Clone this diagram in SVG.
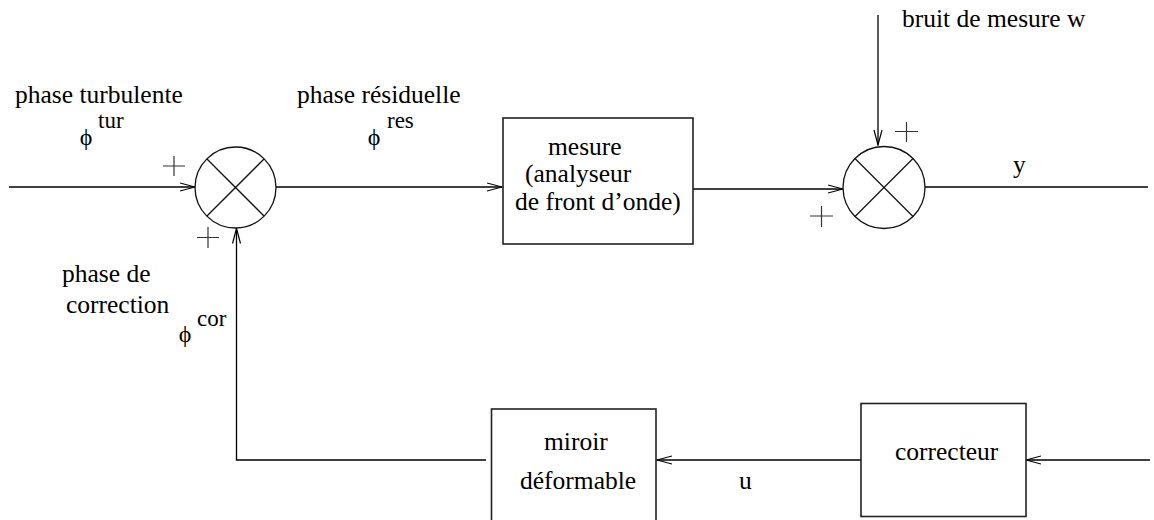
<svg xmlns="http://www.w3.org/2000/svg" width="1154" height="520" viewBox="0 0 1154 520" font-family="Liberation Serif, serif" font-size="25.5">
<style>
.sup{font-size:23px}
.phi{font-size:24px;text-anchor:middle}
.ln{fill:none;stroke:#000;stroke-width:1.3}
.box{fill:#fff;stroke:#222;stroke-width:1.6}
.sum{fill:#fff;stroke:#111;stroke-width:1.3}
.x{stroke:#111;stroke-width:1.3}
.pl{stroke:#333;stroke-width:1.2;fill:none}
</style>
<defs>
<marker id="arr" markerWidth="16" markerHeight="10" refX="15" refY="5" orient="auto" markerUnits="userSpaceOnUse">
<path d="M0,1 L15,5 L0,9" fill="none" stroke="#000" stroke-width="1.2"/>
</marker>
</defs>
<g id="connectors">
<line class="ln" x1="9" y1="187" x2="195" y2="187" marker-end="url(#arr)"/>
<line class="ln" x1="276" y1="187" x2="502" y2="187" marker-end="url(#arr)"/>
<line class="ln" x1="693" y1="189" x2="843" y2="189" marker-end="url(#arr)"/>
<line class="ln" x1="878" y1="15" x2="878" y2="145" marker-end="url(#arr)"/>
<line class="ln" x1="925" y1="187" x2="1148" y2="187"/>
<line class="ln" x1="1150" y1="460" x2="1026" y2="460" marker-end="url(#arr)"/>
<line class="ln" x1="861" y1="460" x2="657" y2="460" marker-end="url(#arr)"/>
<polyline class="ln" points="486,460 236.5,460 236.5,228.5" marker-end="url(#arr)"/>
</g>
<g id="sum1">
<circle class="sum" cx="235.5" cy="187.5" r="40.5"/>
<line class="x" x1="207" y1="159" x2="264" y2="216"/>
<line class="x" x1="264" y1="159" x2="207" y2="216"/>
<path class="pl" d="M163,166 H185 M174,156 V176"/>
<path class="pl" d="M197,237.5 H219 M208,227 V248"/>
</g>
<g id="sum2">
<circle class="sum" cx="884" cy="187.5" r="41"/>
<line class="x" x1="855" y1="158.5" x2="913" y2="216.5"/>
<line class="x" x1="913" y1="158.5" x2="855" y2="216.5"/>
<path class="pl" d="M895,131.5 H918 M906.5,122 V142"/>
<path class="pl" d="M810,216 H833 M821.5,206 V227"/>
</g>
<g id="mesure">
<rect class="box" x="503" y="118" width="190" height="126"/>
<text x="548" y="155">mesure</text>
<text x="525" y="182">(analyseur</text>
<text x="515" y="210">de front d’onde)</text>
</g>
<g id="miroir">
<rect class="box" x="491.5" y="409" width="164.5" height="114"/>
<text x="544" y="450">miroir</text>
<text x="520" y="489">déformable</text>
</g>
<g id="correcteur">
<rect class="box" x="861" y="403.5" width="165" height="113"/>
<text x="895" y="460">correcteur</text>
</g>
<g id="labels">
<text x="15" y="103">phase turbulente</text>
<text class="sup" x="98" y="128">tur</text>
<text class="phi" x="86" y="145">ϕ</text>
<text x="297" y="103">phase résiduelle</text>
<text class="sup" x="387" y="128">res</text>
<text class="phi" x="374" y="145">ϕ</text>
<text x="902" y="27">bruit de mesure w</text>
<text x="1013" y="173">y</text>
<text x="62" y="282">phase de</text>
<text x="66" y="313">correction</text>
<text class="sup" x="197" y="326">cor</text>
<text class="phi" x="185" y="342">ϕ</text>
<text x="739" y="489">u</text>
</g>
</svg>
